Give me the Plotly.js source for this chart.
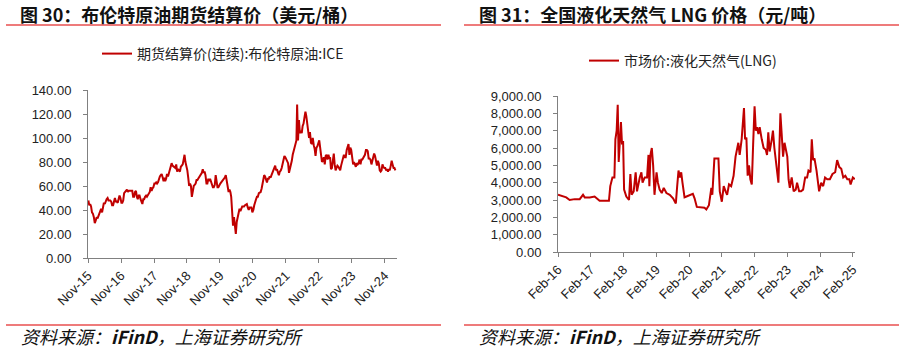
<!DOCTYPE html>
<html>
<head>
<meta charset="utf-8">
<script src="https://cdn.plot.ly/plotly-3.0.1.min.js"></script>
<style>
html,body{margin:0;padding:0;background:#fff;}
#chart{width:904px;height:352px;}
</style>
</head>
<body>
<div id="chart"></div>
<script>
// ---------------- DATA ----------------
// Brent futures settlement (USD/bbl), 3 readings per month (~5th, 15th, 25th) starting Nov 2015
const brentStart = [2015, 11];
const brentValues = [
  48,44,45, 43,38,37,
  34,29,31, 34,33,35, 38,40,41, 38,44,46, 45,48,49, 50,48,48, 48,47,44, 44,49,50, 47,47,46, 51,52,50, 46,46,48, 54,55,55,
  57,55,56, 56,56,56, 56,51,51, 55,56,51, 49,52,52, 49,47,45, 49,49,51, 52,51,52, 53,55,59, 56,58,59, 62,62,63, 62,63,66,
  68,69,70, 67,64,67, 64,66,70, 68,71,74, 75,79,77, 76,76,75, 78,72,74, 73,72,76, 77,78,82, 86,80,77, 73,67,60, 62,60,51,
  57,60,61, 62,65,65, 66,67,68, 70,71,74, 71,72,69, 62,62,66, 64,66,63, 60,59,59, 61,69,63, 59,59,61, 62,63,64, 64,65,67,
  69,65,59, 55,57,55, 51,34,27, 34,28,20, 30,34,36, 41,39,41, 43,43,43, 44,45,45, 42,40,42, 42,42,38, 40,44,48, 49,51,51,
  54,55,55, 58,63,66, 69,68,64, 63,66,66, 68,67,69, 71,73,76, 77,73,74, 71,69,72, 73,75,78, 82,85,84, 82,81,79, 71,74,76,
  81,86,89, 93,96,98, 128,98,115, 104,106,104, 110,112,117, 122,118,113, 104,100,105, 96,95,100, 94,91,85, 92,93,95, 98,92,84, 80,81,84,
  78,85,86, 82,86,83, 84,74,75, 85,87,78, 73,75,77, 76,74,73, 77,80,83, 86,84,84, 90,94,95, 86,92,90, 85,78,80, 77,76,79,
  78,79,82, 78,82,82, 83,85,86, 90,90,89, 83,83,82, 78,82,85, 87,85,81, 77,81,79, 73,72,73, 78,76,75, 75,73,74, 72,74,73,
  77,81,78, 75,75,73
];
const brentDays = [5, 15, 25];

// China LNG market price (CNY/t)
const lngDates = [
  '2016-02-01','2016-03-08','2016-05-03','2016-06-10','2016-08-05','2016-09-30','2016-11-06','2016-11-25',
  '2017-01-20','2017-03-15','2017-05-10','2017-07-25','2017-08-22','2017-09-06','2017-09-30','2017-10-22',
  '2017-11-02','2017-11-16','2017-11-28','2017-12-09','2017-12-19','2018-01-03','2018-01-15','2018-01-27',
  '2018-02-07','2018-03-04','2018-04-03','2018-04-18','2018-05-02','2018-05-25','2018-06-16','2018-07-01',
  '2018-08-01','2018-08-19','2018-09-01','2018-09-25','2018-10-21','2018-11-06','2018-11-16','2018-11-28',
  '2018-12-13','2018-12-28','2019-01-12','2019-02-04','2019-02-19','2019-03-10','2019-04-03','2019-04-25',
  '2019-05-25','2019-07-01','2019-08-07','2019-09-07','2019-09-22','2019-10-07','2019-10-22','2019-11-06',
  '2019-11-20','2019-12-13','2020-01-04','2020-02-27','2020-03-15','2020-04-03','2020-04-28','2020-07-23',
  '2020-08-12','2020-09-10','2020-10-07','2020-10-18','2020-11-10','2020-12-25','2021-01-09','2021-02-01',
  '2021-02-22','2021-03-15','2021-04-01','2021-04-22','2021-05-16','2021-06-12','2021-07-04','2021-08-04',
  '2021-08-19','2021-09-10','2021-09-25','2021-10-06','2021-10-18','2021-11-02','2021-11-16','2021-12-01',
  '2021-12-16','2022-01-01','2022-01-16','2022-02-01','2022-02-15','2022-03-01','2022-03-16','2022-03-30',
  '2022-04-22','2022-05-13','2022-06-06','2022-06-20','2022-07-04','2022-07-19','2022-08-12','2022-08-25',
  '2022-09-10','2022-10-03','2022-10-25','2022-11-16','2022-12-01','2022-12-16','2023-01-01','2023-01-16',
  '2023-02-01','2023-02-15','2023-03-01','2023-03-22','2023-04-13','2023-05-06','2023-05-21','2023-06-13',
  '2023-07-04','2023-07-27','2023-08-19','2023-09-10','2023-09-25','2023-10-18','2023-11-01','2023-11-16',
  '2023-12-01','2023-12-24','2024-01-07','2024-01-22','2024-02-14','2024-03-07','2024-03-28','2024-04-21',
  '2024-05-21','2024-06-19','2024-07-19','2024-08-10','2024-09-03','2024-09-25','2024-10-17','2024-11-09',
  '2024-12-01','2024-12-24','2025-01-07','2025-02-01','2025-02-22'
];
const lngValues = [
  3300,3250,3150,3000,3050,3050,3300,3150,
  3150,3200,2950,2950,2950,3800,4300,4300,
  6500,7000,8500,5200,6000,7500,6200,6400,
  3600,3200,3000,4500,3300,3500,4600,3500,
  4300,4600,4000,4300,4300,5600,3800,5600,
  6000,5000,3300,4600,4000,3600,3400,3700,
  3400,3300,3100,2800,3800,4700,4300,4600,
  4000,3150,3200,3300,3350,3100,2600,2550,
  2450,2700,3700,3300,5400,5400,3500,2900,
  3800,3500,3300,3900,3800,4400,5500,6300,
  5600,6500,7800,8300,6500,6600,4400,5000,
  4200,3900,6200,8400,7000,7200,6800,7200,
  6500,6000,5900,5600,6900,5800,6500,7000,
  6000,5000,4000,8000,6600,5500,6300,5900,
  5500,4200,3700,4300,3500,3600,4000,3500,
  3500,3600,4300,4300,4700,4600,6500,5300,
  5400,4700,4100,3500,4000,3800,4300,4200,
  4200,4500,4600,5300,4900,4800,4300,4400,
  4200,4200,3900,4300,4200
];

const brentTickVals = ['2015-11-01','2016-11-01','2017-11-01','2018-11-01','2019-11-01','2020-11-01','2021-11-01','2022-11-01','2023-11-01','2024-11-01'];
const brentTickText = ['Nov-15','Nov-16','Nov-17','Nov-18','Nov-19','Nov-20','Nov-21','Nov-22','Nov-23','Nov-24'];
const lngTickVals = ['2016-02-01','2017-02-01','2018-02-01','2019-02-01','2020-02-01','2021-02-01','2022-02-01','2023-02-01','2024-02-01','2025-02-01'];
const lngTickText = ['Feb-16','Feb-17','Feb-18','Feb-19','Feb-20','Feb-21','Feb-22','Feb-23','Feb-24','Feb-25'];

const brentName = '期货结算价(连续):布伦特原油:ICE';
const lngName = '市场价:液化天然气(LNG)';
const title1 = '图 30：布伦特原油期货结算价（美元/桶）';
const title2 = '图 31：全国液化天然气 LNG 价格（元/吨）';
const sourceText = '资料来源：<b>iFinD</b>，上海证券研究所';

// build brent dates
const brentDates = [];
for (let i = 0; i < brentValues.length; i++) {
  const m = Math.floor(i / 3);
  const d = brentDays[i % 3];
  let y = brentStart[0], mo = brentStart[1] - 1 + m;
  y += Math.floor(mo / 12); mo = mo % 12;
  brentDates.push(y + '-' + String(mo + 1).padStart(2, '0') + '-' + String(d).padStart(2, '0'));
}

// ---------------- LAYOUT ----------------
const W = 904, H = 352;
const px = v => v / W;
const py = v => (H - v) / H;
const RED = '#C00000';
const TXT = '#222222';
const AX = '#808080';
const tickFont = {family: 'Liberation Sans, Arial, sans-serif', size: 13, color: TXT};
const cjk = '"Noto Sans CJK SC", "Liberation Sans", sans-serif';

const traces = [
  {x: brentDates, y: brentValues, type: 'scatter', mode: 'lines', name: brentName,
   line: {color: RED, width: 2}, xaxis: 'x', yaxis: 'y', legend: 'legend'},
  {x: lngDates, y: lngValues, type: 'scatter', mode: 'lines', name: lngName,
   line: {color: RED, width: 2}, xaxis: 'x2', yaxis: 'y2', legend: 'legend2'}
];

const xCommon = {
  type: 'date', showgrid: false, zeroline: false, showline: true, linecolor: AX, linewidth: 1,
  ticks: 'outside', ticklen: 4, tickcolor: AX, tickangle: -45, tickfont: tickFont, automargin: false
};
const yCommon = {
  showgrid: false, zeroline: false, showline: true, linecolor: AX, linewidth: 1,
  ticks: 'outside', ticklen: 4, tickcolor: AX, tickfont: tickFont, automargin: false,
  ticklabelstandoff: 9
};

const layout = {
  width: W, height: H,
  margin: {l: 0, r: 0, t: 0, b: 0},
  paper_bgcolor: '#fff', plot_bgcolor: '#fff',
  showlegend: true,
  xaxis: Object.assign({}, xCommon, {
    domain: [px(88), px(397)], anchor: 'y',
    range: ['2015-11-01', '2025-03-15'],
    tickmode: 'array', tickvals: brentTickVals, ticktext: brentTickText
  }),
  yaxis: Object.assign({}, yCommon, {
    domain: [py(258), py(90)], anchor: 'x',
    range: [0, 140], dtick: 20, tick0: 0, tickformat: '.2f'
  }),
  xaxis2: Object.assign({}, xCommon, {
    domain: [px(558), px(855)], anchor: 'y2',
    range: ['2016-02-01', '2025-02-25'],
    tickmode: 'array', tickvals: lngTickVals, ticktext: lngTickText
  }),
  yaxis2: Object.assign({}, yCommon, {
    domain: [py(252), py(96)], anchor: 'x2',
    range: [0, 9000], dtick: 1000, tick0: 0, tickformat: ',.2f'
  }),
  legend: {
    x: px(97), y: py(54), xanchor: 'left', yanchor: 'middle', orientation: 'h',
    font: {family: cjk, size: 14, color: TXT}, bgcolor: 'rgba(0,0,0,0)', itemwidth: 30
  },
  legend2: {
    x: px(584), y: py(61), xanchor: 'left', yanchor: 'middle', orientation: 'h',
    font: {family: cjk, size: 14, color: TXT}, bgcolor: 'rgba(0,0,0,0)', itemwidth: 30
  },
  shapes: [
    {type: 'line', xref: 'paper', yref: 'paper', x0: px(6), x1: px(441), y0: py(25), y1: py(25), line: {color: '#EE7B7B', width: 2}},
    {type: 'line', xref: 'paper', yref: 'paper', x0: px(464), x1: px(899), y0: py(25), y1: py(25), line: {color: '#EE7B7B', width: 2}},
    {type: 'line', xref: 'paper', yref: 'paper', x0: px(6), x1: px(441), y0: py(325), y1: py(325), line: {color: '#EE7B7B', width: 2}},
    {type: 'line', xref: 'paper', yref: 'paper', x0: px(464), x1: px(899), y0: py(325), y1: py(325), line: {color: '#EE7B7B', width: 2}}
  ],
  annotations: [
    {xref: 'paper', yref: 'paper', x: px(18), y: py(14), xanchor: 'left', yanchor: 'middle', showarrow: false,
     text: '<b>' + title1 + '</b>', font: {family: cjk, size: 18, color: '#111'}},
    {xref: 'paper', yref: 'paper', x: px(477), y: py(14), xanchor: 'left', yanchor: 'middle', showarrow: false,
     text: '<b>' + title2 + '</b>', font: {family: cjk, size: 18, color: '#111'}},
    {xref: 'paper', yref: 'paper', x: px(19), y: py(336), xanchor: 'left', yanchor: 'middle', showarrow: false,
     text: '<i>' + sourceText + '</i>', font: {family: cjk, size: 18, color: '#111'}},
    {xref: 'paper', yref: 'paper', x: px(477), y: py(336), xanchor: 'left', yanchor: 'middle', showarrow: false,
     text: '<i>' + sourceText + '</i>', font: {family: cjk, size: 18, color: '#111'}}
  ]
};

Plotly.newPlot('chart', traces, layout, {displayModeBar: false, staticPlot: true});
</script>
</body>
</html>
